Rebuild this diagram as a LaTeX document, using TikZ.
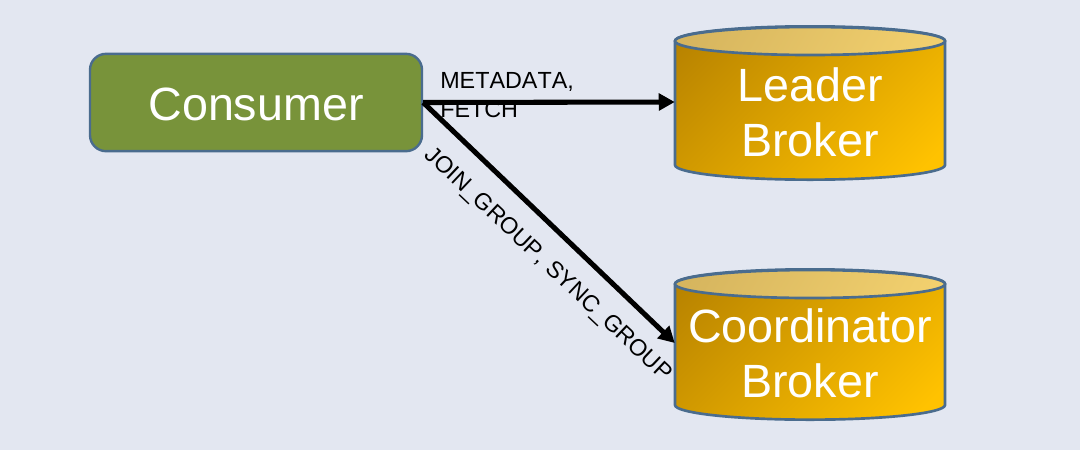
\documentclass[tikz,border=0pt]{standalone}
\usepackage{fontspec}
\setmainfont[Kerning=Off]{Liberation Sans}
\usetikzlibrary{arrows.meta}
\definecolor{pagebg}{HTML}{E3E7F1}
\definecolor{edgeblue}{HTML}{4A6C8E}
\definecolor{leaf}{HTML}{78933A}
\definecolor{golddark}{HTML}{B88300}
\definecolor{goldlight}{HTML}{FFC200}
\definecolor{lidlight}{HTML}{F2D06E}
\definecolor{liddark}{HTML}{D6B55E}
\pgfdeclarehorizontalshading{drumbody}{100bp}{color(0bp)=(golddark); color(18bp)=(golddark); color(80bp)=(goldlight); color(100bp)=(goldlight)}
\pgfdeclarehorizontalshading{drumlid}{100bp}{color(0bp)=(liddark); color(20bp)=(liddark); color(80bp)=(lidlight); color(100bp)=(lidlight)}
\tikzset{
  x=0.75pt, y=-0.75pt,
  bigtext/.style={text=white, font=\fontsize{35}{41}\selectfont, align=center, inner sep=0pt},
  smalltext/.style={text=black, font=\fontsize{17.5}{21.8}\selectfont, align=left, inner sep=0pt},
  rounded box/.style={draw=edgeblue, line width=1.8pt, fill=leaf, rounded corners=12pt, inner sep=0pt},
  broker/.style={minimum width=202.5pt, minimum height=110pt, inner sep=0pt},
  link/.style={draw=black, line width=3.8pt, -{Triangle[length=12pt,width=12.5pt]}},
  rim/.style={draw=edgeblue, line width=2pt}
}
% Cylinder: centre x, y of the lid centre, y of the lower rim centre
\newcommand{\drum}[3]{%
  \shade[rim, shading=drumbody, shading angle=-45]
    (#1-135,#2) -- (#1-135,#3) arc[start angle=180, end angle=360, x radius=101.25pt, y radius=11pt]
    -- (#1+135,#2) arc[start angle=0, end angle=180, x radius=101.25pt, y radius=11pt] -- cycle;
  \shade[rim, shading=drumlid, shading angle=-30]
    (#1,#2) ellipse[x radius=101.25pt, y radius=10.5pt];
}
\begin{document}
\begin{tikzpicture}
  \useasboundingbox[fill=pagebg] (0,0) rectangle (1080,450);

  \drum{810}{41}{165}
  \drum{810}{284}{405}

  \node[rounded box, minimum width=249pt, minimum height=73pt] (consumer) at (256,102.5) {};
  \node[broker] (leader) at (810,102) {};
  \node[broker] (coord) at (810,343) {};

  \node[bigtext] (consumertext) at (256,104.5) {Consumer};
  \node[bigtext] (leadertext) at (810,112.5) {Leader\\Broker};
  \node[bigtext] (coordtext) at (810,353.5) {Coordinator\\Broker};

  \node[smalltext, anchor=north west] (fetchlabel) at (440,72) {METADATA,\\FETCH};
  \node[smalltext, rotate=-43.3] (grouplabel) at (547.5,265) {JOIN\_GROUP,\kern1pt{} SYNC\_GROUP};

  \draw[link] (consumer.east) -- (leader.west);
  \draw[link] (consumer.east) -- (coord.west);
\end{tikzpicture}
\end{document}
